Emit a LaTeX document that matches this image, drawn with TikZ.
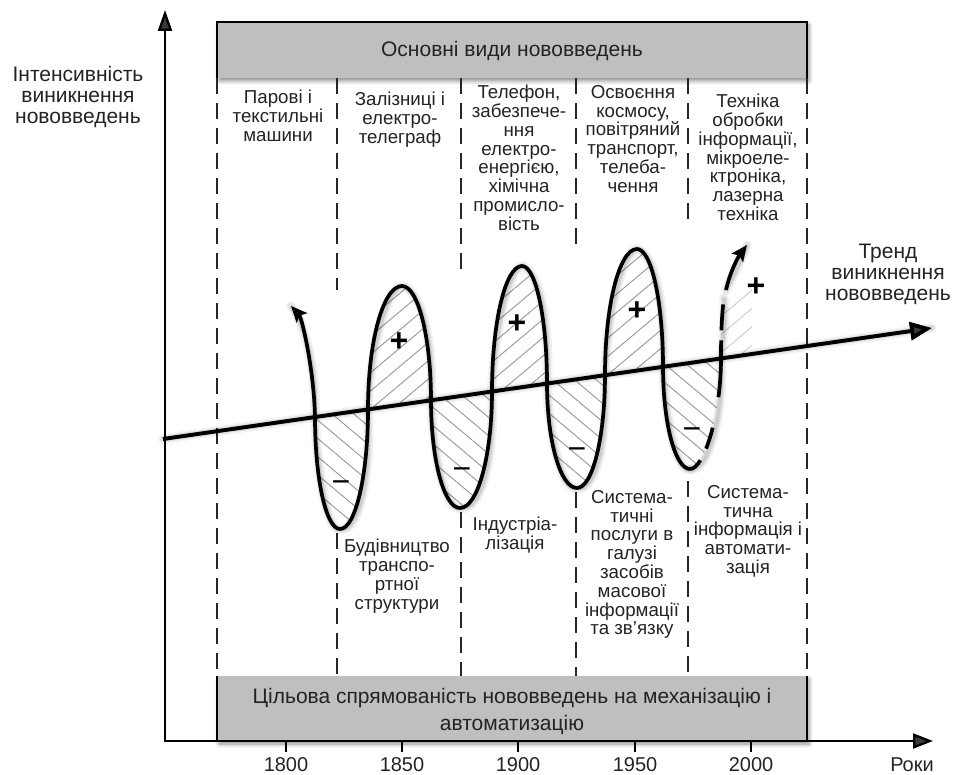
\documentclass[tikz,border=0pt]{standalone}
\usepackage{fontspec}
\setmainfont{Liberation Sans}
\usetikzlibrary{arrows.meta,patterns.meta,shadows,shadows.blur}
\definecolor{boxgray}{RGB}{191,191,191}
\definecolor{inkgray}{RGB}{35,35,35}
\definecolor{hatchgray}{RGB}{150,150,150}

\begin{document}
\begin{tikzpicture}[x=1pt,y=-1pt,
  label/.style={inner sep=0pt, align=center, text=inkgray, font=\fontsize{18.7}{18.8}\selectfont},
  biglabel/.style={inner sep=0pt, align=center, text=inkgray, font=\fontsize{21}{21}\selectfont},
  yearlabel/.style={inner sep=0pt, text=inkgray, font=\fontsize{20}{20}\selectfont},
  colline/.style={line width=2.6pt, dash pattern=on 16pt off 9pt, black!85},
  boxline/.style={line width=2pt, black},
  boxshade/.style={fill=boxgray, blur shadow={shadow xshift=2pt, shadow yshift=-3pt, shadow blur radius=4pt, shadow opacity=45}},
  curve/.style={line width=3.7pt, line join=round},
  trendline/.style={line width=3.9pt},
  axis/.style={line width=2.3pt},
  hatchup/.style={pattern={Lines[angle=40,distance=14pt,line width=0.9pt]}, pattern color=hatchgray},
  hatchdown/.style={pattern={Lines[angle=-40,distance=14pt,line width=0.9pt]}, pattern color=hatchgray},
  hatchfaint/.style={pattern={Lines[angle=40,distance=14pt,line width=0.8pt]}, pattern color=hatchgray!55},
  sign/.style={inner sep=0pt, anchor=base, text=black, font=\fontsize{32}{32}\selectfont},
  shA/.style={line width=10pt, black, opacity=0.05, line cap=round, line join=round},
  shB/.style={line width=6.5pt, black, opacity=0.07, line cap=round, line join=round},
  shC/.style={line width=3.8pt, black, opacity=0.09, line join=round},
  wavepath/.style={insert path={
    (start) .. controls (302,318) and (314,370) .. (c1)
    .. controls (315,479) and (326,529) .. (e1)
    .. controls (355.5,529) and (368,475.4) .. (c2)
    .. controls (368,341.3) and (383.2,286) .. (e2)
    .. controls (418,286) and (431,337.2) .. (c3)
    .. controls (431,459.7) and (444,508) .. (e3)
    .. controls (477.7,508) and (492,455.8) .. (c4)
    .. controls (492,322.2) and (505.4,266) .. (e4)
    .. controls (535.8,266) and (547,318.6) .. (c5)
    .. controls (547,441.1) and (560.4,488) .. (e5)
    .. controls (592.5,488) and (605,437.4) .. (c6)
    .. controls (605,305.4) and (619.3,249) .. (e6)
    .. controls (651.4,249) and (663,301.7) .. (c7)
    .. controls (663,423.1) and (675.1,469) .. (e7)}},
  tailpath/.style={insert path={
    (e7) .. controls (704,469) and (721,415) .. (c8)
    .. controls (721,330) and (722,312) .. (tailend)}},
  arrowpath/.style={insert path={
    (arrowbase) .. controls (730,272) and (738,257) .. (arrowtip)}},
]
\useasboundingbox (0,0) rectangle (955,775);

% key points of the wave and the trend line
\coordinate (start) at (291,306);
\coordinate (c1) at (315,417.0);
\coordinate (e1) at (340,529);
\coordinate (c2) at (368,409.3);
\coordinate (e2) at (402,286);
\coordinate (c3) at (431,400.2);
\coordinate (e3) at (460,508);
\coordinate (c4) at (492,391.4);
\coordinate (e4) at (522,266);
\coordinate (c5) at (547,383.4);
\coordinate (e5) at (577,488);
\coordinate (c6) at (605,375.0);
\coordinate (e6) at (637,249);
\coordinate (c7) at (663,366.6);
\coordinate (e7) at (690,469);
\coordinate (c8) at (721,358.2);
\coordinate (tailend) at (724,298);
\coordinate (arrowbase) at (726,290);
\coordinate (arrowtip) at (747,245);
\coordinate (tstart) at (163,439);
\coordinate (tend) at (932,328);
\coordinate (tmark) at (752,353.8);

% grey header and footer bands
\fill[boxshade] (217,22) rectangle (807,78);
\fill[boxshade] (217,676) rectangle (807,741);

% period separators
\draw[colline] (217,78) -- (217,676);
\draw[colline] (337,78) -- (337,290);
\draw[colline] (337,533) -- (337,676);
\draw[colline] (461,78) -- (461,272);
\draw[colline] (461,512) -- (461,676);
\draw[colline] (576,78) -- (576,250);
\draw[colline] (576,492) -- (576,676);
\draw[colline] (688,78) -- (688,222);
\draw[colline] (688,481) -- (688,676);
\draw[colline] (807,78) -- (807,676);

% hatched areas above and below the trend
\fill[hatchdown] (c1) .. controls (315,479) and (326,529) .. (e1) .. controls (355.5,529) and (368,475.4) .. (c2) -- cycle;
\fill[hatchup] (c2) .. controls (368,341.3) and (383.2,286) .. (e2) .. controls (418,286) and (431,337.2) .. (c3) -- cycle;
\fill[hatchdown] (c3) .. controls (431,459.7) and (444,508) .. (e3) .. controls (477.7,508) and (492,455.8) .. (c4) -- cycle;
\fill[hatchup] (c4) .. controls (492,322.2) and (505.4,266) .. (e4) .. controls (535.8,266) and (547,318.6) .. (c5) -- cycle;
\fill[hatchdown] (c5) .. controls (547,441.1) and (560.4,488) .. (e5) .. controls (592.5,488) and (605,437.4) .. (c6) -- cycle;
\fill[hatchup] (c6) .. controls (605,305.4) and (619.3,249) .. (e6) .. controls (651.4,249) and (663,301.7) .. (c7) -- cycle;
\fill[hatchdown] (c7) .. controls (663,423.1) and (675.1,469) .. (e7) .. controls (704,469) and (721,415) .. (c8) -- cycle;
\fill[hatchfaint] (c8) .. controls (721,330) and (722,312) .. (tailend) -- (752,290) -- (tmark) -- cycle;

% soft shadows
\begin{scope}[shift={(3,4)}]
  \foreach \s in {shA,shB,shC} {
    \draw[\s, wavepath];
    \draw[\s, tailpath];
    \draw[\s, arrowpath];
    \draw[\s] (tstart) -- (tend);
  }
\end{scope}

% trend of innovations
\draw[trendline, -{Triangle[length=22pt,width=18pt]}] (tstart) -- (tend);

% the wave of innovations
\draw[curve, {Stealth[length=16pt,width=14pt,inset=3pt]}-, wavepath];
\draw[curve, dash pattern=on 14pt off 13pt on 22pt off 31pt on 57pt off 10pt on 26pt off 60pt, tailpath];
\draw[curve, -{Stealth[length=16pt,width=14pt,inset=3pt]}, arrowpath];

% axes
\draw[axis, {Triangle[length=21pt,width=14pt]}-{Triangle[length=20pt,width=15pt]}] (165,10) -- (165,741) -- (933,741);
\foreach \x in {286,402,518,635,751} \draw[axis] (\x,741) -- (\x,752);

% band borders
\draw[boxline] (217,78) -- (217,22) -- (807,22) -- (807,78);
\draw[boxline] (217,676) -- (217,741);
\draw[boxline] (807,676) -- (807,741);

% signs of the phases
\node[sign, font=\bfseries\fontsize{32}{32}\selectfont] (p1) at (399,351.5) {+};
\node[sign, font=\bfseries\fontsize{32}{32}\selectfont] (p2) at (517,334) {+};
\node[sign, font=\bfseries\fontsize{32}{32}\selectfont] (p3) at (637,320) {+};
\node[sign, font=\bfseries\fontsize{32}{32}\selectfont] (p4) at (756,296.5) {+};
\node[sign] (m1) at (341,492) {−};
\node[sign] (m2) at (462,479.5) {−};
\node[sign] (m3) at (577,459.5) {−};
\node[sign] (m4) at (692,439.5) {−};

% titles
\node[biglabel, anchor=base] (head) at (512,57) {Основні види нововведень};
\node[biglabel, anchor=north, font=\fontsize{21}{27}\selectfont] (foot) at (512,688) {Цільова спрямованість нововведень на механізацію і\\автоматизацію};
\node[biglabel, anchor=north] (ylab) at (78,66) {Інтенсивність\\виникнення\\нововведень};
\node[biglabel, anchor=north] (tlab) at (888,244) {Тренд\\виникнення\\нововведень};

% kinds of innovations
\node[label, anchor=north] (k1) at (278,90) {Парові і\\текстильні\\машини};
\node[label, anchor=north] (k2) at (400,92) {Залізниці і\\електро-\\телеграф};
\node[label, anchor=north] (k3) at (519,85) {Телефон,\\забезпече-\\ння\\електро-\\енергією,\\хімічна\\промисло-\\вість};
\node[label, anchor=north] (k4) at (633,85) {Освоєння\\космосу,\\повітряний\\транспорт,\\телеба-\\чення};
\node[label, anchor=north] (k5) at (748,94) {Техніка\\обробки\\інформації,\\мікроеле-\\ктроніка,\\лазерна\\техніка};

% directions of innovations
\node[label, anchor=north] (d1) at (397,539) {Будівництво\\транспо-\\ртної\\структури};
\node[label, anchor=north] (d2) at (515,517) {Індустріа-\\лізація};
\node[label, anchor=north] (d3) at (632,490) {Система-\\тичні\\послуги в\\галузі\\засобів\\масової\\інформації\\та зв’язку};
\node[label, anchor=north] (d4) at (748,485) {Система-\\тична\\інформація і\\автомати-\\зація};

% years
\node[yearlabel, anchor=base] (y1800) at (286,771) {1800};
\node[yearlabel, anchor=base] (y1850) at (402,771) {1850};
\node[yearlabel, anchor=base] (y1900) at (518,771) {1900};
\node[yearlabel, anchor=base] (y1950) at (635,771) {1950};
\node[yearlabel, anchor=base] (y2000) at (751,771) {2000};
\node[yearlabel, anchor=base] (roky) at (912,771) {Роки};
\end{tikzpicture}
\end{document}
